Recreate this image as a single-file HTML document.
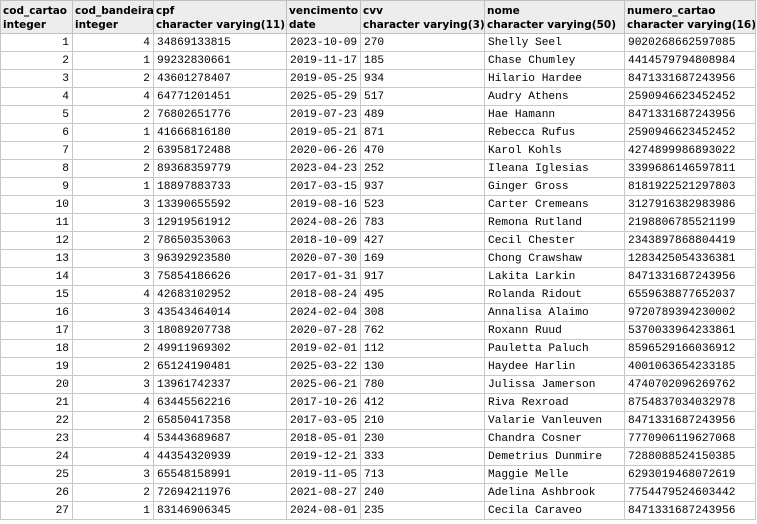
<!DOCTYPE html>
<html><head><meta charset="utf-8"><style>
body{margin:0;width:757px;height:524px;background:#fff;overflow:hidden;position:relative}
table{position:absolute;left:0;top:0;border-collapse:collapse;table-layout:fixed;width:755px}
th{background:#ededed;font:bold 10.5px "DejaVu Sans",Verdana,sans-serif;text-align:left;vertical-align:top;padding:3px 0 0 2px;height:29px;line-height:14px;border:1px solid #c0c0c0;color:#000;white-space:nowrap;overflow:hidden}
td{font:11.2px "Liberation Mono",monospace;height:17px;padding:0 3px 0 3px;border:1px solid #c8c8c8;white-space:nowrap;color:#000;overflow:hidden}
td.n{text-align:right}
</style></head><body>
<table>
<colgroup><col style="width:72px"><col style="width:81px"><col style="width:133px"><col style="width:74px"><col style="width:124px"><col style="width:140px"><col style="width:131px"></colgroup>
<thead><tr>
<th>cod_cartao<br>integer</th>
<th>cod_bandeira<br>integer</th>
<th>cpf<br>character varying(11)</th>
<th>vencimento<br>date</th>
<th>cvv<br>character varying(3)</th>
<th>nome<br>character varying(50)</th>
<th>numero_cartao<br>character varying(16)</th>
</tr></thead>
<tbody id="tb"></tbody>
</table>
<script>
const rows=[
[1,4,"34869133815","2023-10-09","270","Shelly Seel","9020268662597085"],
[2,1,"99232830661","2019-11-17","185","Chase Chumley","4414579794808984"],
[3,2,"43601278407","2019-05-25","934","Hilario Hardee","8471331687243956"],
[4,4,"64771201451","2025-05-29","517","Audry Athens","2590946623452452"],
[5,2,"76802651776","2019-07-23","489","Hae Hamann","8471331687243956"],
[6,1,"41666816180","2019-05-21","871","Rebecca Rufus","2590946623452452"],
[7,2,"63958172488","2020-06-26","470","Karol Kohls","4274899986893022"],
[8,2,"89368359779","2023-04-23","252","Ileana Iglesias","3399686146597811"],
[9,1,"18897883733","2017-03-15","937","Ginger Gross","8181922521297803"],
[10,3,"13390655592","2019-08-16","523","Carter Cremeans","3127916382983986"],
[11,3,"12919561912","2024-08-26","783","Remona Rutland","2198806785521199"],
[12,2,"78650353063","2018-10-09","427","Cecil Chester","2343897868804419"],
[13,3,"96392923580","2020-07-30","169","Chong Crawshaw","1283425054336381"],
[14,3,"75854186626","2017-01-31","917","Lakita Larkin","8471331687243956"],
[15,4,"42683102952","2018-08-24","495","Rolanda Ridout","6559638877652037"],
[16,3,"43543464014","2024-02-04","308","Annalisa Alaimo","9720789394230002"],
[17,3,"18089207738","2020-07-28","762","Roxann Ruud","5370033964233861"],
[18,2,"49911969302","2019-02-01","112","Pauletta Paluch","8596529166036912"],
[19,2,"65124190481","2025-03-22","130","Haydee Harlin","4001063654233185"],
[20,3,"13961742337","2025-06-21","780","Julissa Jamerson","4740702096269762"],
[21,4,"63445562216","2017-10-26","412","Riva Rexroad","8754837034032978"],
[22,2,"65850417358","2017-03-05","210","Valarie Vanleuven","8471331687243956"],
[23,4,"53443689687","2018-05-01","230","Chandra Cosner","7770906119627068"],
[24,4,"44354320939","2019-12-21","333","Demetrius Dunmire","7288088524150385"],
[25,3,"65548158991","2019-11-05","713","Maggie Melle","6293019468072619"],
[26,2,"72694211976","2021-08-27","240","Adelina Ashbrook","7754479524603442"],
[27,1,"83146906345","2024-08-01","235","Cecila Caraveo","8471331687243956"]];
const tb=document.getElementById('tb');
const names=["cod-cartao","cod-bandeira","cpf","vencimento","cvv","nome","numero-cartao"];
rows.forEach(r=>{
 const tr=document.createElement('tr');
 
 
 r.forEach((v,i)=>{
  const td=document.createElement('td');
  
  
  if(i<2)td.className='n';
  td.textContent=v;tr.appendChild(td);
 });
 tb.appendChild(tr);
});
</script>
</body></html>
